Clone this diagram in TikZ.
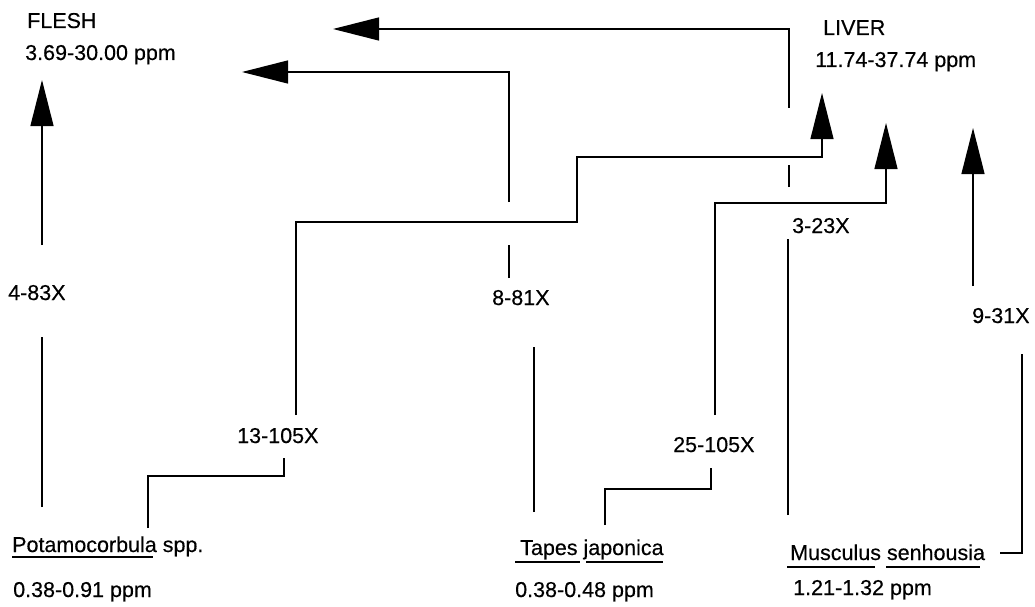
\documentclass[tikz,border=0pt]{standalone}
\usepackage{fontspec}
\setmainfont{Liberation Sans}
\newfontfamily\labfont[FakeBold=0.35]{Liberation Sans}
\usetikzlibrary{arrows.meta}
\begin{document}
\begin{tikzpicture}[x=1pt,y=-1pt,
  txt/.style={anchor=base west,inner sep=0pt,font=\labfont\fontsize{21.5}{24}\selectfont},
  conn/.style={line width=1.2pt,line cap=butt},
  tiparrow/.style={conn,-{Triangle[length=46pt,width=23pt]}},
  uline/.style={line width=1.1pt}]
\useasboundingbox (0,0) rectangle (1035,607);
% tissue labels
\node[txt] (flesh) at (27,28) {FLESH};
\node[txt] (fleshppm) at (25,60) {3.69-30.00 ppm};
\node[txt] (liver) at (823,35) {LIVER};
\node[txt] (liverppm) at (815,67) {11.74-37.74 ppm};
% species
\node[txt] (pot) at (12,552) {Potamocorbula spp.};
\node[txt] (potppm) at (13,597) {0.38-0.91 ppm};
\node[txt] (tap) at (520,555) {Tapes japonica};
\node[txt] (tapppm) at (515,597) {0.38-0.48 ppm};
\node[txt] (mus) at (790,560) {Musculus senhousia};
\node[txt] (musppm) at (793,595) {1.21-1.32 ppm};
% factors
\node[txt] (cfa) at (8,300) {4-83X};
\node[txt] (cfb) at (237,443) {13-105X};
\node[txt] (cfc) at (492,305) {8-81X};
\node[txt] (cfd) at (673,452) {25-105X};
\node[txt] (cfe) at (792,233) {3-23X};
\node[txt] (cff) at (972,323) {9-31X};
% arrow tips
\coordinate (tipA) at (42,80);
\coordinate (tipB) at (822,93);
\coordinate (tipC) at (242,72);
\coordinate (tipD) at (886,123);
\coordinate (tipE) at (333,29);
\coordinate (tipF) at (973,128);
% underlines
\draw[uline] (12,557) -- (153,557);
\draw[uline] (515,562) -- (580,562);
\draw[uline] (586,562) -- (663,562);
\draw[uline] (787,567) -- (875,567);
\draw[uline] (886,567) -- (980,567);
% Potamocorbula -> flesh
\draw[conn] (42,507) -- (42,337);
\draw[tiparrow] (42,245) -- (tipA);
% Potamocorbula -> liver
\draw[conn] (148,528) |- (284,476) -- (284,458);
\draw[tiparrow] (296,415) |- (577,222) |- (822,157) -- (tipB);
% Tapes -> flesh
\draw[conn] (534,512) -- (534,347);
\draw[conn] (509,278) -- (509,245);
\draw[tiparrow] (509,202) |- (tipC);
% Tapes -> liver
\draw[conn] (605,525) |- (711,489) -- (711,468);
\draw[tiparrow] (715,415) |- (886,203) -- (tipD);
% Musculus -> flesh
\draw[conn] (788,515) -- (788,239);
\draw[conn] (789,187) -- (789,165);
\draw[tiparrow] (789,108) |- (tipE);
% Musculus -> liver
\draw[conn] (1000,553) -| (1022,354);
\draw[tiparrow] (973,286) -- (tipF);
\end{tikzpicture}
\end{document}
